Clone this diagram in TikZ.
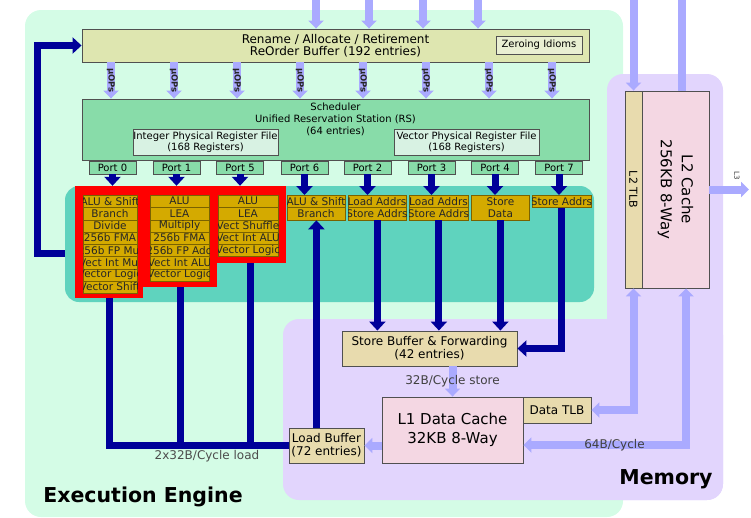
\documentclass[tikz,border=0pt]{standalone}
\usepackage{fontspec}
\setmainfont{DejaVu Sans}
\usetikzlibrary{arrows.meta, positioning, calc}
\definecolor{engineBg}{HTML}{D4FCE6}
\definecolor{memBg}{HTML}{E2D5FD}
\definecolor{unitBg}{HTML}{5FD3BE}
\definecolor{robFill}{HTML}{DEE6B0}
\definecolor{zeroFill}{HTML}{E9EFD2}
\definecolor{rsFill}{HTML}{88DCA9}
\definecolor{prfFill}{HTML}{D8F2E3}
\definecolor{euFill}{HTML}{D4AA00}
\definecolor{euEdge}{HTML}{7A6200}
\definecolor{bufFill}{HTML}{E8DBAE}
\definecolor{cacheFill}{HTML}{F4D7E3}
\definecolor{flowLight}{HTML}{AAAAFF}
\definecolor{flowDark}{HTML}{000099}
\definecolor{edgeGray}{HTML}{505050}
\definecolor{hotRed}{HTML}{FF0000}

% one execution-unit row: name, left x, top y, width, label (label clipped to the cell)
\newcommand{\eurow}[5]{%
  \node[eubox, minimum width=#4pt, anchor=north west] (#1) at (#2,{#3}) {};
  \begin{scope}
    \clip (#2,{#3}) rectangle ++(#4,12.25);
    \node[eutxt] (#1t) at ({#2+#4/2},{#3+6.125}) {#5};
  \end{scope}
}

\begin{document}
\begin{tikzpicture}[
  x=1pt, y=-1pt,
  blk/.style={draw=edgeGray, line width=0.9pt, inner sep=0pt, align=center},
  rob/.style={blk, fill=robFill, minimum width=507pt, minimum height=33pt, font=\fontsize{12}{12}\selectfont},
  zero/.style={blk, fill=zeroFill, minimum width=86pt, minimum height=18pt, font=\fontsize{10}{12}\selectfont},
  rs/.style={blk, fill=rsFill, minimum width=507pt, minimum height=61pt},
  rstxt/.style={inner sep=0pt, align=center, font=\fontsize{10}{12}\selectfont},
  prf/.style={blk, fill=prfFill, minimum width=145pt, minimum height=26pt, font=\fontsize{10}{11.5}\selectfont},
  port/.style={blk, fill=rsFill, minimum width=47pt, minimum height=13pt, font=\fontsize{10}{12}\selectfont},
  hot/.style={fill=hotRed, inner sep=0pt},
  eubox/.style={draw=euEdge, fill=euFill, line width=0.8pt, inner sep=0pt, minimum height=12.25pt},
  eutxt/.style={inner sep=0pt, text=black!85, font=\fontsize{10.5}{12}\selectfont},
  buf/.style={blk, fill=bufFill, font=\fontsize{12}{13}\selectfont},
  buftxt/.style={inner sep=0pt, font=\fontsize{11}{12}\selectfont},
  cache/.style={blk, fill=cacheFill, font=\fontsize{15}{19}\selectfont},
  cachetxt/.style={inner sep=0pt, align=center, font=\fontsize{15}{21}\selectfont},
  feed/.style={draw=flowLight, line width=8pt, -{Triangle[width=15pt,length=8pt]}},
  feedline/.style={draw=flowLight, line width=8pt},
  feedboth/.style={draw=flowLight, line width=8pt, {Triangle[width=15pt,length=8pt]}-{Triangle[width=15pt,length=8pt]}},
  wire/.style={draw=flowDark, line width=7pt},
  wirearr/.style={wire, -{Triangle[width=16pt,length=9pt]}},
  uoplbl/.style={inner sep=0pt, rotate=-90, text=black!85, font=\fontsize{8.5}{9}\selectfont\bfseries},
  flowlbl/.style={inner sep=0pt, text=black!75, font=\fontsize{12}{12}\selectfont},
  tinylbl/.style={inner sep=0pt, text=black!80, font=\fontsize{7}{7}\selectfont},
  title/.style={inner sep=0pt, font=\fontsize{20.5}{20.5}\selectfont\bfseries}
]
\useasboundingbox (0,0) rectangle (751,517);

% backgrounds
\fill[engineBg, rounded corners=16pt] (25,10) rectangle (623,517);
\fill[memBg, rounded corners=16pt] (607,74) rectangle (723,500);
\fill[memBg, rounded corners=16pt] (283,319) rectangle (723,500);
\fill[unitBg, rounded corners=14pt] (65,186) rectangle (594,302);

% front end
\node[rob] (rob) at (335.5,45.5) {Rename / Allocate / Retirement\\ReOrder Buffer (192 entries)};
\node[zero] (zero) at (539,45) {Zeroing Idioms};
\node[rs] (sched) at (335.5,129.5) {};
\node[rstxt, below=4pt of sched.north] (schedlbl) {Scheduler\\Unified Reservation Station (RS)\\(64 entries)};
\node[prf] (iprf) at (205.5,142) {Integer Physical Register File\\(168 Registers)};
\node[prf] (vprf) at (466.5,142) {Vector Physical Register File\\(168 Registers)};

\foreach \x in {316,369,423,478} {
  \coordinate (src\x) at (\x,0);
  \draw[feed] (src\x) -- (rob.north -| src\x);
}
\foreach \x in {111,174,...,552}
  \draw[feed] (rob.south -| \x,0) -- (sched.north -| \x,0) node[midway, uoplbl] {µOPs};

% ports
\foreach \p/\x in {0/112.5, 1/176.5, 5/240, 6/304.5, 2/367.5, 3/431.5, 4/495, 7/559}
  \node[port] (port\p) at (\x,167.5) {Port \p};

% execution units
\node[hot, minimum width=68pt, minimum height=112pt] (hot0) at (109,242) {};
\node[hot, minimum width=74pt, minimum height=101pt] (hot1) at (180,236.5) {};
\node[hot, minimum width=72pt, minimum height=77pt] (hot5) at (250,224.5) {};

\foreach \t [count=\i from 0] in {ALU \& Shift, Branch, Divide, 256b FMA, 256b FP Mul, Vect Int Mul, Vector Logic, Vector Shift}
  \eurow{p0r\i}{83}{195+12.25*\i}{54}{\t};
\foreach \t [count=\i from 0] in {ALU, LEA, Multiply, 256b FMA, 256b FP Add, Vect Int ALU, Vector Logic}
  \eurow{p1r\i}{150}{195+12.25*\i}{59}{\t};
\foreach \t [count=\i from 0] in {ALU, LEA, Vect Shuffle, Vect Int ALU, Vector Logic}
  \eurow{p5r\i}{218}{195+12.25*\i}{60}{\t};
\foreach \t [count=\i from 0] in {ALU \& Shift, Branch}
  \eurow{p6r\i}{287}{195+12.25*\i}{58}{\t};
\foreach \t [count=\i from 0] in {Load Addrs, Store Addrs}
  \eurow{p2r\i}{348}{195+12.25*\i}{58}{\t};
\foreach \t [count=\i from 0] in {Load Addrs, Store Addrs}
  \eurow{p3r\i}{409}{195+12.25*\i}{59}{\t};
\node[eubox, minimum width=58pt, minimum height=24.5pt, anchor=north west, align=center,
      text=black!85, font=\fontsize{10.5}{12}\selectfont] (pfour) at (471,195) {Store\\Data};
\eurow{p7r0}{532}{195}{59}{Store Addrs}

\foreach \p in {0,1,5}
  \draw[wirearr] (port\p) -- (port\p |- hot\p.north);
\draw[wirearr] (port6) -- (port6 |- p6r0.north);
\draw[wirearr] (port2) -- (port2 |- p2r0.north);
\draw[wirearr] (port3) -- (port3 |- p3r0.north);
\draw[wirearr] (port4) -- (port4 |- pfour.north);
\draw[wirearr] (port7) -- (port7 |- p7r0.north);

% memory subsystem
\node[buf, minimum width=175pt, minimum height=35pt] (stbuf) at (429.5,348.5) {Store Buffer \& Forwarding\\(42 entries)};
\node[buf, minimum width=75pt, minimum height=35pt] (ldbuf) at (326.5,445.5) {Load Buffer\\(72 entries)};
\node[cache, minimum width=141pt, minimum height=66pt] (l1) at (452.5,430) {L1 Data Cache\\32KB 8-Way};
\node[buf, minimum width=68pt, minimum height=26pt] (dtlb) at (557,410) {Data TLB};
\node[buf, minimum width=17pt, minimum height=197pt] (l2tlb) at (633.5,189.5) {};
\node[buftxt, rotate=-90] (l2tlblbl) at (l2tlb) {L2 TLB};
\node[cache, minimum width=67pt, minimum height=197pt] (l2) at (675.5,189.5) {};
\node[cachetxt, rotate=-90] (l2lbl) at (l2) {L2 Cache\\256KB 8-Way};

% load / store paths
\draw[wire] (hot0.south) |- (ldbuf.west);
\draw[wire] (hot1.south) -- (hot1.south |- ldbuf.west);
\draw[wire] (hot5.south) -- (hot5.south |- ldbuf.west);
\node[flowlbl, text=black!70] (loadlbl) at (207,456) {2x32B/Cycle load};
\draw[wirearr] (ldbuf.north -| p6r1.south) -- (p6r1.south);
\foreach \c in {p2r1, p3r1, pfour}
  \draw[wirearr] (\c.south) -- (\c.south |- stbuf.north);
\draw[wirearr] (p7r0.south) |- (stbuf.east);

% retirement loop
\coordinate (retire) at (65,253);
\draw[wirearr] (retire) -| ([xshift=-44pt]rob.west) -- (rob.west);

% cache traffic
\draw[feed] (stbuf.south -| l1.north) -- (l1.north) node[midway, flowlbl] {32B/Cycle store};
\draw[feed] (l1.west |- ldbuf.east) -- (ldbuf.east);
\draw[feedboth] (l2tlb.south) |- (dtlb.east);
\draw[feedboth] ([xshift=10.5pt]l2.south) |- ([yshift=-15pt]l1.east) node[pos=0.72, flowlbl] {64B/Cycle};
\coordinate (itlbsrc) at (633.5,0);
\draw[feed] (itlbsrc) -- (l2tlb.north);
\coordinate (ifetch) at (682,0);
\draw[feedline] (ifetch) -- (l2.north -| ifetch);
\coordinate (l3) at (749,189.5);
\draw[feed] (l2.east) -- (l3);
\node[tinylbl, rotate=-90] (l3lbl) at (737,176) {L3};

% region titles
\node[title] (englbl) at (143,497) {Execution Engine};
\node[title] (memlbl) at (666,479) {Memory};
\end{tikzpicture}
\end{document}
